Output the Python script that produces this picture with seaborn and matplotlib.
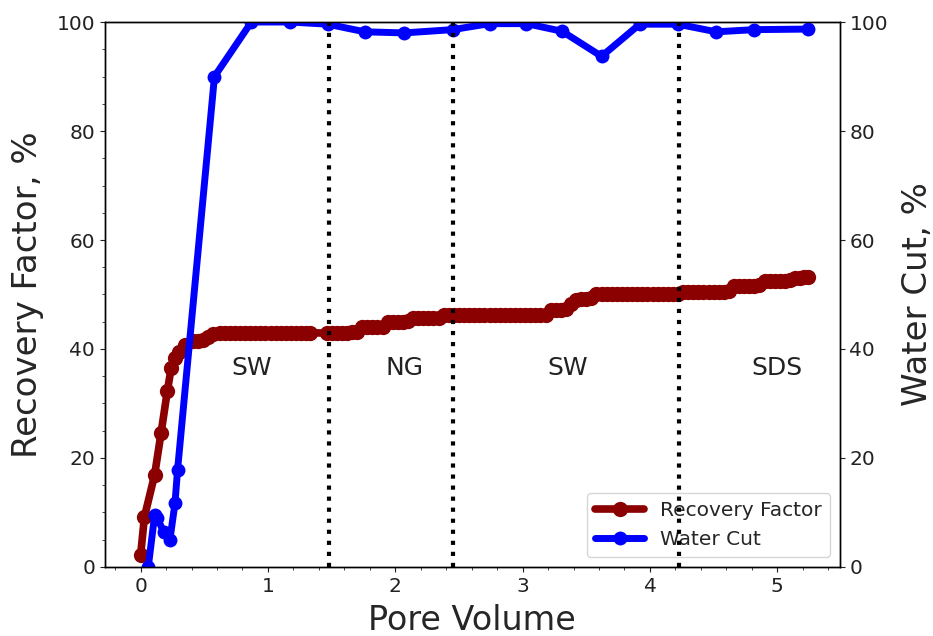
import numpy as np
import pandas as pd
import matplotlib
matplotlib.use("Agg")
import matplotlib.pyplot as plt
from matplotlib.ticker import AutoMinorLocator, MultipleLocator
import seaborn as sns

# ---------------- data ----------------
rf_pv = [0.00, 0.03, 0.11, 0.16, 0.21, 0.24, 0.27, 0.30, 0.35, 0.41, 0.45, 0.49,
         0.53, 0.57, 0.62, 0.66, 0.70, 0.74, 0.78, 0.82, 0.86, 0.90, 0.94, 0.98,
         1.02, 1.06, 1.10, 1.14, 1.18, 1.22, 1.26, 1.30, 1.33, 1.46, 1.50, 1.54,
         1.58, 1.62, 1.66, 1.70, 1.74, 1.78, 1.82, 1.86, 1.90, 1.94, 1.98, 2.02,
         2.06, 2.10, 2.14, 2.18, 2.22, 2.26, 2.30, 2.34, 2.38, 2.42, 2.46, 2.50,
         2.54, 2.58, 2.62, 2.66, 2.70, 2.74, 2.78, 2.82, 2.86, 2.90, 2.94, 2.98,
         3.02, 3.06, 3.10, 3.14, 3.18, 3.22, 3.26, 3.30, 3.34, 3.38, 3.42, 3.46,
         3.50, 3.54, 3.58, 3.62, 3.66, 3.70, 3.74, 3.78, 3.82, 3.86, 3.90, 3.94,
         3.98, 4.02, 4.06, 4.10, 4.14, 4.18, 4.22, 4.26, 4.30, 4.34, 4.38, 4.42,
         4.46, 4.50, 4.54, 4.58, 4.62, 4.66, 4.70, 4.74, 4.78, 4.82, 4.86, 4.90,
         4.94, 4.98, 5.02, 5.06, 5.10, 5.14, 5.18, 5.21, 5.24]
rf_val = [2.2, 9.2, 16.9, 24.5, 32.3, 36.5, 38.3, 39.5, 40.7, 41.5, 41.5, 41.6,
          42.2, 42.8, 43.0, 43.0, 43.0, 43.0, 43.0, 43.0, 43.0, 43.0, 43.0, 43.0,
          43.0, 43.0, 43.0, 43.0, 43.0, 43.0, 43.0, 43.0, 43.0, 42.9, 43.0, 43.0,
          43.0, 43.0, 43.1, 43.2, 44.0, 44.0, 44.0, 44.1, 44.1, 45.0, 45.0, 45.0,
          45.0, 45.1, 45.6, 45.6, 45.6, 45.7, 45.7, 45.7, 46.2, 46.2, 46.2, 46.2,
          46.2, 46.2, 46.2, 46.2, 46.2, 46.2, 46.2, 46.2, 46.2, 46.2, 46.2, 46.2,
          46.2, 46.2, 46.2, 46.2, 46.3, 47.2, 47.2, 47.2, 47.3, 48.3, 49.0, 49.2,
          49.2, 49.3, 50.0, 50.0, 50.0, 50.0, 50.0, 50.0, 50.0, 50.0, 50.0, 50.0,
          50.0, 50.0, 50.0, 50.0, 50.0, 50.1, 50.1, 50.4, 50.4, 50.4, 50.4, 50.5,
          50.5, 50.5, 50.5, 50.5, 50.6, 51.5, 51.5, 51.5, 51.6, 51.6, 51.7, 52.4,
          52.4, 52.4, 52.5, 52.5, 52.6, 53.1, 53.1, 53.2, 53.2]

wc_pv = [0.06, 0.11, 0.13, 0.18, 0.23, 0.27, 0.29, 0.58, 0.87, 1.17, 1.47, 1.76,
         2.07, 2.45, 2.74, 3.03, 3.31, 3.62, 3.92, 4.22, 4.52, 4.82, 5.24]
wc_val = [0.0, 9.5, 9.0, 6.5, 5.0, 11.7, 17.8, 90.0, 100.0, 100.0, 99.6, 98.2,
          98.0, 98.6, 99.7, 99.7, 98.3, 93.7, 99.6, 99.6, 98.2, 98.6, 98.7]

stage_bounds = [1.48, 2.45, 4.23]
stage_names = ["SW", "NG", "SW", "SDS"]
stage_label_x = [0.87, 2.07, 3.35, 5.00]
stage_label_y = 36.5

rf_df = pd.DataFrame({"Pore Volume": rf_pv, "RF": rf_val})
wc_df = pd.DataFrame({"Pore Volume": wc_pv, "WC": wc_val})

# ---------------- figure ----------------
sns.set_style("ticks")
plt.rcParams["font.family"] = ["DejaVu Sans"]
plt.rcParams["xtick.direction"] = "out"
plt.rcParams["ytick.direction"] = "out"

fig, ax1 = plt.subplots(figsize=(9.33, 6.36), dpi=100)
fig.subplots_adjust(left=0.1125, right=0.900, top=0.9654, bottom=0.1085)
ax2 = ax1.twinx()

red = "#8B0000"
blue = "#0000FF"

sns.lineplot(data=rf_df, x="Pore Volume", y="RF", ax=ax1, color=red,
             marker="o", markersize=11, markeredgewidth=0, linewidth=5.5,
             sort=False, estimator=None, label="Recovery Factor", legend=False)
sns.lineplot(data=wc_df, x="Pore Volume", y="WC", ax=ax2, color=blue,
             marker="o", markersize=10, markeredgewidth=0, linewidth=5,
             sort=False, estimator=None, label="Water Cut", legend=False)

for xb in stage_bounds:
    ax2.axvline(xb, color="black", linestyle=":", linewidth=3)

for name, xt in zip(stage_names, stage_label_x):
    ax2.text(xt, stage_label_y, name, fontsize=18, ha="center", va="center",
             color="#222222")

for ax in (ax1, ax2):
    ax.set_ylim(0, 100)
    ax.yaxis.set_major_locator(MultipleLocator(20))
ax1.set_xlim(-0.28, 5.49)
ax1.xaxis.set_major_locator(MultipleLocator(1))
ax1.xaxis.set_minor_locator(AutoMinorLocator(5))
ax1.yaxis.set_minor_locator(AutoMinorLocator(4))

ax1.set_xlabel("Pore Volume", fontsize=24, labelpad=6)
ax1.set_ylabel("Recovery Factor, %", fontsize=24.5, labelpad=9)
ax2.set_ylabel("Water Cut, %", fontsize=24.5, labelpad=9)

for ax in (ax1, ax2):
    ax.tick_params(labelsize=14.5, colors="#222222")
    for s in ax.spines.values():
        s.set_visible(True)
        s.set_color("black")
        s.set_linewidth(1.0)

h1, l1 = ax1.get_legend_handles_labels()
h2, l2 = ax2.get_legend_handles_labels()
ax1.legend(h1 + h2, l1 + l2, loc="lower right", fontsize=14.5,
           handlelength=2.4, borderaxespad=0.5, framealpha=0.8,
           edgecolor="#cccccc", fancybox=True)

fig.savefig("out.png", dpi=100)
